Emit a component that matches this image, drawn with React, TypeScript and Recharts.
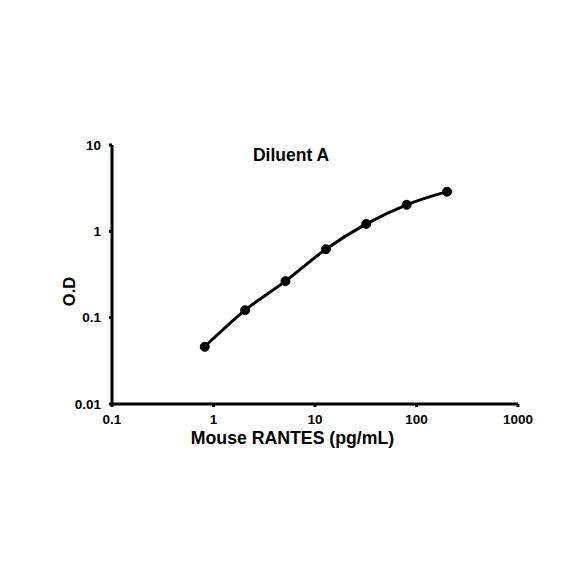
import React from 'react';
import { LineChart, Line, XAxis, YAxis, Label } from 'recharts';

const concentrations = [0.82, 2.05, 5.12, 12.8, 32, 80, 200];
const odValues = [0.046, 0.122, 0.265, 0.62, 1.22, 2.03, 2.88];
const xTicks = [0.1, 1, 10, 100, 1000];
const yTicks = [0.01, 0.1, 1, 10];
const chartTitle = 'Diluent A';
const xTitle = 'Mouse RANTES (pg/mL)';
const yTitle = 'O.D';

const data = concentrations.map((c, i) => ({ conc: c, od: odValues[i] }));

const FONT = 'Arial, "Liberation Sans", sans-serif';

export default function App() {
  return (
    <div style={{ position: 'absolute', left: 0, top: 0, width: 584, height: 584, background: '#fff' }}>
      <LineChart width={584} height={584} data={data} margin={{ top: 145, right: 66, bottom: 150, left: 0 }}>
        <XAxis
          dataKey="conc"
          type="number"
          scale="log"
          domain={[0.1, 1000]}
          ticks={xTicks}
          interval={0}
          allowDataOverflow
          height={30}
          axisLine={{ stroke: '#000', strokeWidth: 3 }}
          tickLine={{ stroke: '#000', strokeWidth: 3 }}
          tickSize={3}
          tickMargin={7}
          tick={{ fill: '#000', fontSize: 13.5, fontWeight: 'bold', fontFamily: FONT }}
        >
          <Label
            content={() => (
              <text x={292.5} y={444} textAnchor="middle" fill="#000" fontSize={17.7} fontWeight="bold" fontFamily={FONT}>
                {xTitle}
              </text>
            )}
          />
        </XAxis>
        <YAxis
          dataKey="od"
          type="number"
          scale="log"
          domain={[0.01, 10]}
          ticks={yTicks}
          interval={0}
          allowDataOverflow
          width={112}
          axisLine={{ stroke: '#000', strokeWidth: 3 }}
          tickLine={{ stroke: '#000', strokeWidth: 3 }}
          tickSize={3}
          tickMargin={8}
          tick={{ fill: '#000', fontSize: 13.5, fontWeight: 'bold', fontFamily: FONT }}
        >
          <Label
            content={() => (
              <g>
                <text
                  x={74.5}
                  y={291.5}
                  transform="rotate(-90, 74.5, 291.5)"
                  textAnchor="middle"
                  fill="#000"
                  fontSize={16.5}
                  fontWeight="bold"
                  fontFamily={FONT}
                >
                  {yTitle}
                </text>
                <text x={291} y={160.7} textAnchor="middle" fill="#000" fontSize={17.5} fontWeight="bold" fontFamily={FONT}>
                  {chartTitle}
                </text>
              </g>
            )}
          />
        </YAxis>
        <Line
          dataKey="od"
          type="monotone"
          stroke="#000"
          strokeWidth={3}
          dot={{ r: 4.5, fill: '#000', stroke: '#000', strokeWidth: 1 }}
          activeDot={false}
          isAnimationActive={false}
        />
      </LineChart>
    </div>
  );
}
